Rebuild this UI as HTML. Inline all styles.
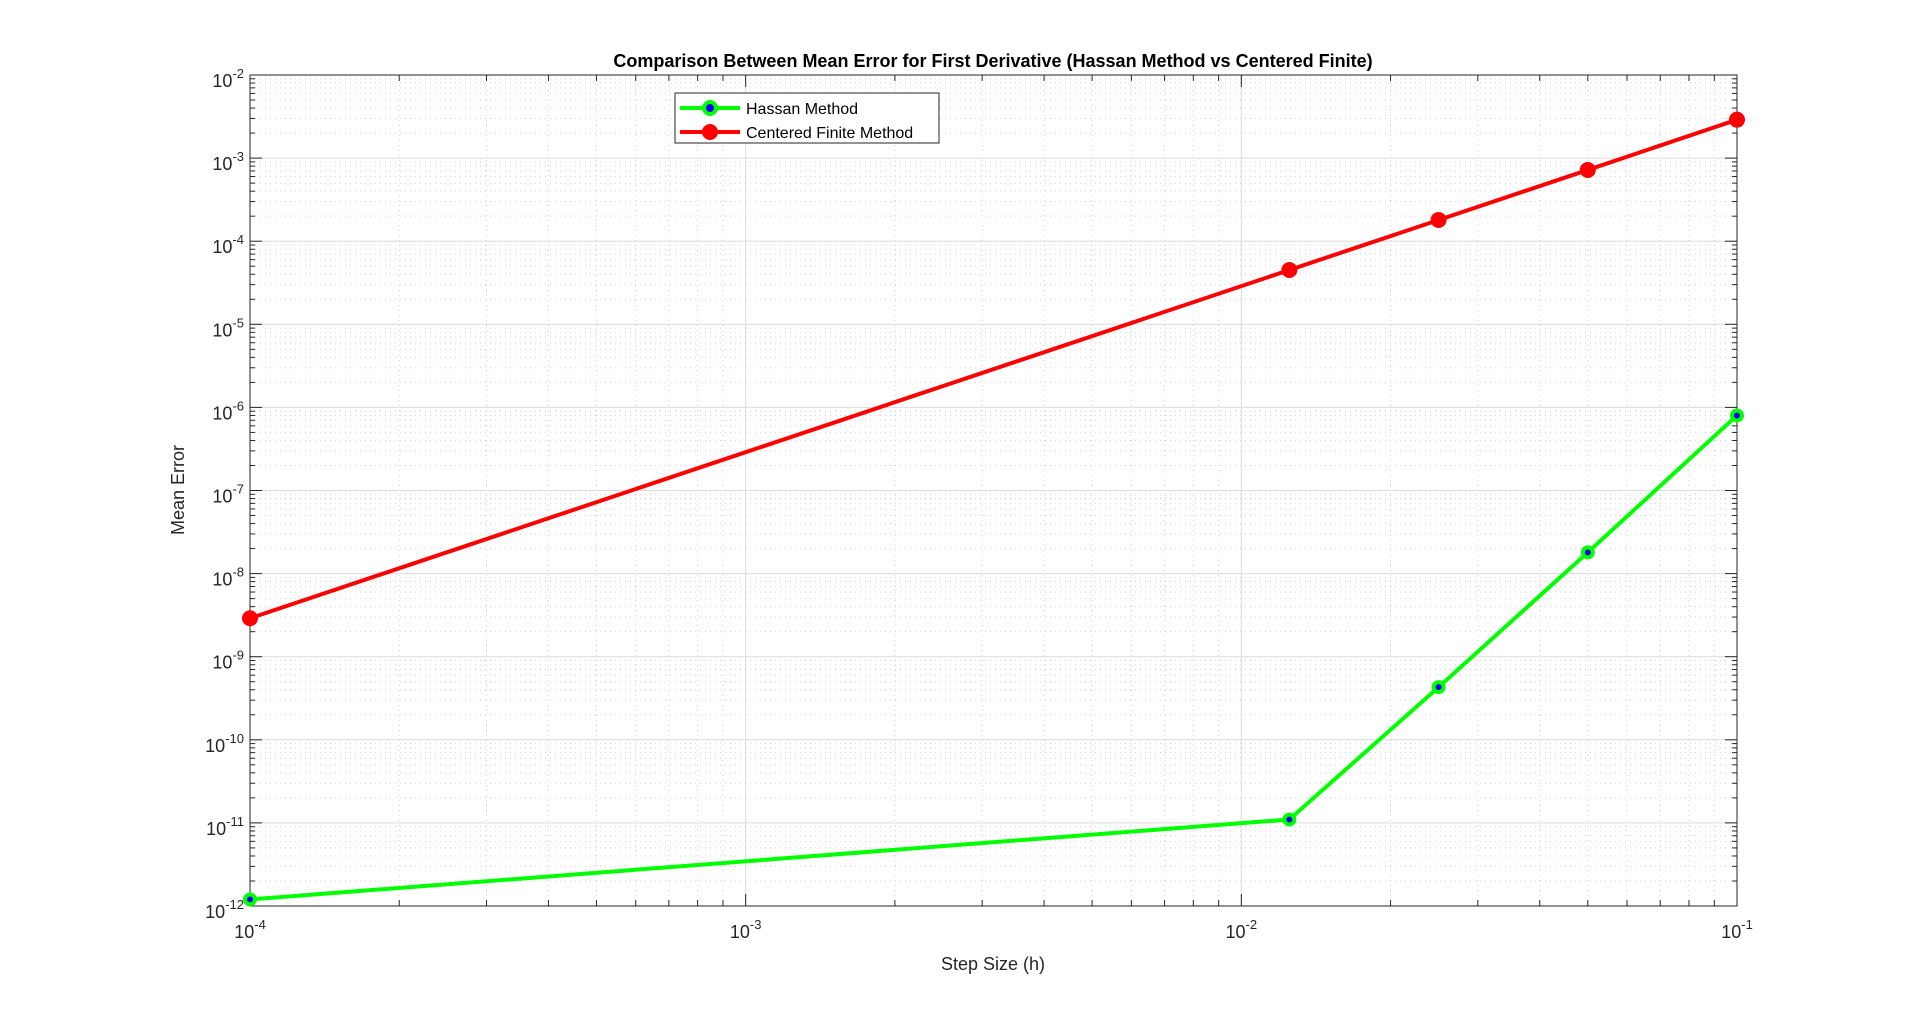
<!DOCTYPE html>
<html><head><meta charset="utf-8"><style>
html,body{margin:0;padding:0;background:#fff;}
svg{display:block;font-family:"Liberation Sans",Arial,sans-serif;}
</style></head><body>
<svg id="chart" width="1920" height="1019" viewBox="0 0 1920 1019">
<g id="grid"></g>
<g id="axes"></g>
<g id="series"></g>
<text x="993" y="67" text-anchor="middle" font-size="18" font-weight="bold" fill="#000">Comparison Between Mean Error for First Derivative (Hassan Method vs Centered Finite)</text>
<text x="993" y="970" text-anchor="middle" font-size="18" fill="#262626">Step Size (h)</text>
<text transform="translate(184,490) rotate(-90)" text-anchor="middle" font-size="18" fill="#262626">Mean Error</text>
<g>
<rect x="675" y="93" width="264" height="50" fill="#fff" stroke="#262626" stroke-width="1"/>
<g>
<line x1="680" y1="108" x2="740" y2="108" stroke="#00ff00" stroke-width="4"/>
<circle cx="710" cy="108" r="6" fill="#0000ff" stroke="#00ff00" stroke-width="4"/>
<text x="746" y="114" font-size="16" fill="#000">Hassan Method</text>
</g>
<g>
<line x1="680" y1="132" x2="740" y2="132" stroke="#ff0000" stroke-width="4"/>
<circle cx="710" cy="132" r="7" fill="#ff0000" stroke="#ff0000" stroke-width="2"/>
<text x="746" y="138" font-size="16" fill="#000">Centered Finite Method</text>
</g>
</g>
</svg>
<script>
const stepSizes = [0.0001, 0.0125, 0.025, 0.05, 0.1];
const hassanErrors = [1.2e-12, 1.1e-11, 4.3e-10, 1.8e-8, 8e-7];
const centeredErrors = [2.9e-9, 4.5e-5, 1.8e-4, 7.2e-4, 2.9e-3];
const xTickExps = [-4, -3, -2, -1];
const yTickExps = [-12, -11, -10, -9, -8, -7, -6, -5, -4, -3, -2];

const L = 250, R = 1737, T = 75, B = 906;
const xMin = -4, xMax = -1, yMin = -12, yMax = -2;
const NS = 'http://www.w3.org/2000/svg';
function sx(v){ return L + (Math.log10(v) - xMin) / (xMax - xMin) * (R - L); }
function sy(v){ return B - (Math.log10(v) - yMin) / (yMax - yMin) * (B - T); }
function mk(tag, attrs, parent){
  const e = document.createElementNS(NS, tag);
  for (const k in attrs) e.setAttribute(k, attrs[k]);
  parent.appendChild(e);
  return e;
}
const grid = document.getElementById('grid');
const axes = document.getElementById('axes');
const series = document.getElementById('series');

for (let d = xMin; d < xMax; d++) {
  for (let m = 1; m <= 9; m++) {
    const v = m * Math.pow(10, d);
    const x = sx(v);
    if (m === 1) {
      mk('line', {x1:x, y1:T, x2:x, y2:B, stroke:'#dcdcdc', 'stroke-width':1}, grid);
    } else {
      mk('line', {x1:x, y1:T, x2:x, y2:B, stroke:'#d0d0d0', 'stroke-width':1, 'stroke-dasharray':'1,4'}, grid);
      mk('line', {x1:x, y1:B, x2:x, y2:B-6, stroke:'#262626'}, axes);
      mk('line', {x1:x, y1:T, x2:x, y2:T+6, stroke:'#262626'}, axes);
    }
  }
}
for (let d = yMin; d < yMax; d++) {
  for (let m = 1; m <= 9; m++) {
    const v = m * Math.pow(10, d);
    const y = sy(v);
    if (m === 1) {
      mk('line', {x1:L, y1:y, x2:R, y2:y, stroke:'#dcdcdc', 'stroke-width':1}, grid);
    } else {
      mk('line', {x1:L, y1:y, x2:R, y2:y, stroke:'#d0d0d0', 'stroke-width':1, 'stroke-dasharray':'1,4'}, grid);
      mk('line', {x1:L, y1:y, x2:L+5, y2:y, stroke:'#262626'}, axes);
      mk('line', {x1:R, y1:y, x2:R-5, y2:y, stroke:'#262626'}, axes);
    }
  }
}
mk('rect', {x:L, y:T, width:R-L, height:B-T, fill:'none', stroke:'#262626', 'stroke-width':1}, axes);

xTickExps.forEach(e => {
  const x = sx(Math.pow(10, e));
  mk('line', {x1:x, y1:B, x2:x, y2:B-12, stroke:'#262626'}, axes);
  mk('line', {x1:x, y1:T, x2:x, y2:T+12, stroke:'#262626'}, axes);
  const t = mk('text', {x:x, y:B+32, 'text-anchor':'middle', 'font-size':18, fill:'#262626'}, axes);
  
  
  t.innerHTML = '10<tspan dy="-9" font-size="13">' + e + '</tspan>';
});
yTickExps.forEach(e => {
  const y = sy(Math.pow(10, e));
  mk('line', {x1:L, y1:y, x2:L+12, y2:y, stroke:'#262626'}, axes);
  mk('line', {x1:R, y1:y, x2:R-12, y2:y, stroke:'#262626'}, axes);
  const t = mk('text', {x:L-6, y:y+12, 'text-anchor':'end', 'font-size':18, fill:'#262626'}, axes);
  
  
  t.innerHTML = '10<tspan dy="-9" font-size="13">' + e + '</tspan>';
});

function drawSeries(vals, color, fill, r, sw, name){
  const pts = stepSizes.map((s,i) => sx(s) + ',' + sy(vals[i])).join(' ');
  const pl = mk('polyline', {points:pts, fill:'none', stroke:color, 'stroke-width':4}, series);
  
  
  stepSizes.forEach((s,i) => {
    const c = mk('circle', {cx:sx(s), cy:sy(vals[i]), r:r, fill:fill, stroke:color, 'stroke-width':sw}, series);
    
    
  });
}
drawSeries(centeredErrors, '#ff0000', '#ff0000', 7, 2, 'centered');
drawSeries(hassanErrors, '#00ff00', '#0000ff', 5, 4, 'hassan');
</script>
</body></html>
